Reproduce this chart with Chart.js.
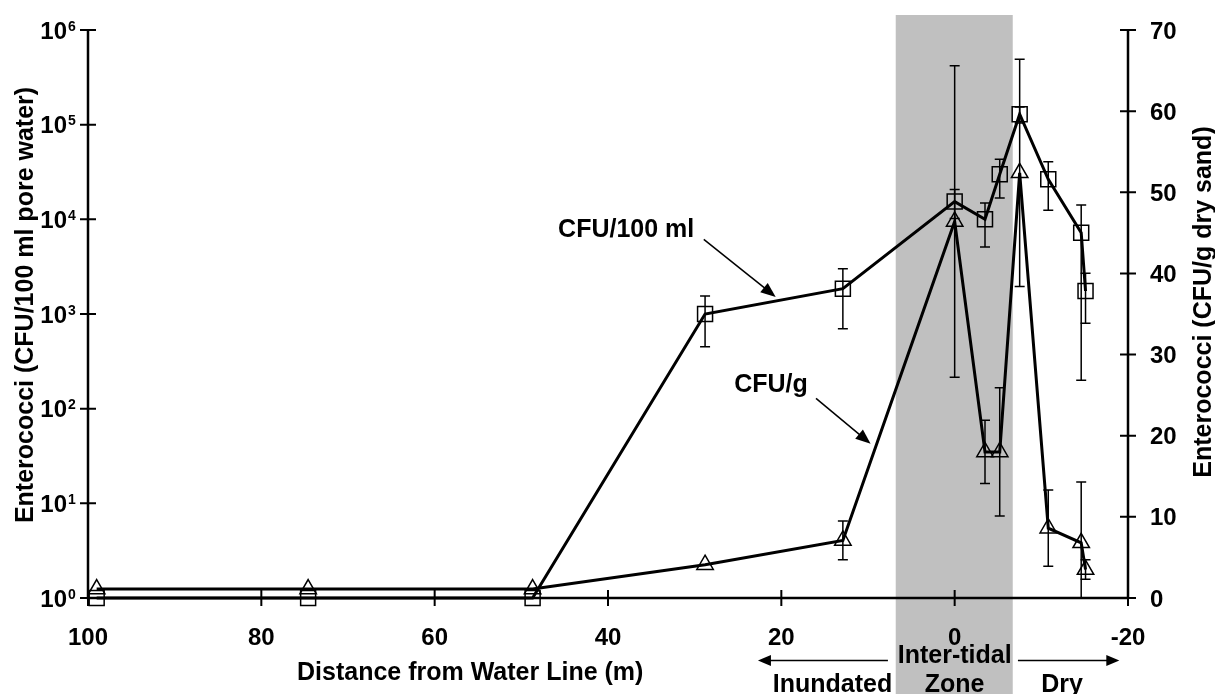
<!DOCTYPE html>
<html lang="en">
<head>
<meta charset="UTF-8">
<title>Enterococci vs. distance from water line</title>
<script src="https://cdn.jsdelivr.net/npm/chart.js@4.4.0/dist/chart.umd.min.js"></script>
<style>
  html, body { margin: 0; padding: 0; background: #fff; }
  #wrap { width: 1215px; height: 694px; }
</style>
</head>
<body>
<div id="wrap"><canvas id="chart" width="1215" height="694"></canvas></div>
<script>
// Sampling stations (m from water line, negative = landward)
const distance = [99, 74.6, 48.7, 28.8, 12.9, 0, -3.5, -5.2, -7.5, -10.8, -14.6, -15.1];

// Enterococci in pore water (CFU/100 ml), left log axis
const cfuPer100ml    = [1, 1, 1, 1000, 1850, 15400, 10000, 30000, 129000, 26500, 7200, 1750];
const cfuPer100mlErr = [0, 0, 0, 550, 1150, 5200, 4900, 13200, 25000, 14000, 7000, 950];

// Enterococci in sand (CFU/g dry sand), right linear axis
const cfuPerGram    = [1.1, 1.1, 1.1, 4.1, 7.1, 46.4, 18.0, 18.0, 52.4, 8.6, 6.8, 3.5];
const cfuPerGramErr = [0, 0, 0, 0, 2.4, 19.2, 3.9, 7.9, 14.0, 4.7, 7.5, 1.2];

const xTicks = [100, 80, 60, 40, 20, 0, -20];
const logExponents = [0, 1, 2, 3, 4, 5, 6];
const linTicks = [0, 10, 20, 30, 40, 50, 60, 70];

// inter-tidal zone limits (m)
const interTidal = [6.8, -6.7];

const FONT = "'Liberation Sans', Arial, Helvetica, sans-serif";

function toPoints(ys) {
  return distance.map((d, i) => ({ x: d, y: ys[i] }));
}

function drawArrow(ctx, x1, y1, x2, y2, len, half) {
  const a = Math.atan2(y2 - y1, x2 - x1);
  ctx.beginPath();
  ctx.moveTo(x1, y1);
  ctx.lineTo(x2 - Math.cos(a) * len * 0.8, y2 - Math.sin(a) * len * 0.8);
  ctx.stroke();
  ctx.beginPath();
  ctx.moveTo(x2, y2);
  ctx.lineTo(x2 - Math.cos(a) * len - Math.sin(a) * half, y2 - Math.sin(a) * len + Math.cos(a) * half);
  ctx.lineTo(x2 - Math.cos(a) * len + Math.sin(a) * half, y2 - Math.sin(a) * len - Math.cos(a) * half);
  ctx.closePath();
  ctx.fill();
}

// grey band behind the data for the inter-tidal zone
const bandPlugin = {
  id: 'band',
  beforeDatasetsDraw(chart) {
    const { ctx, chartArea } = chart;
    const x = chart.scales.x;
    const a = x.getPixelForValue(interTidal[0]);
    const b = x.getPixelForValue(interTidal[1]);
    ctx.save();
    ctx.fillStyle = '#c0c0c0';
    ctx.fillRect(a, chartArea.top - 15, b - a, chart.height - chartArea.top + 15);
    ctx.restore();
  }
};

// vertical error bars, clipped at the axis minimum
const errorBarPlugin = {
  id: 'errorBars',
  afterDatasetsDraw(chart) {
    const { ctx } = chart;
    const x = chart.scales.x;
    const sets = [
      { scale: chart.scales.yLog, vals: cfuPer100ml, errs: cfuPer100mlErr, floor: 1 },
      { scale: chart.scales.yLin, vals: cfuPerGram, errs: cfuPerGramErr, floor: 0 }
    ];
    ctx.save();
    ctx.strokeStyle = '#000';
    ctx.lineWidth = 1.5;
    sets.forEach(s => {
      s.vals.forEach((v, i) => {
        const e = s.errs[i];
        if (!e) return;
        const px = x.getPixelForValue(distance[i]);
        const hiV = v + e;
        const loV = Math.max(v - e, s.floor);
        const hi = s.scale.getPixelForValue(hiV);
        const lo = s.scale.getPixelForValue(loV);
        ctx.beginPath();
        ctx.moveTo(px, hi);
        ctx.lineTo(px, lo);
        ctx.moveTo(px - 5, hi);
        ctx.lineTo(px + 5, hi);
        if (v - e > s.floor) {
          ctx.moveTo(px - 5, lo);
          ctx.lineTo(px + 5, lo);
        }
        ctx.stroke();
      });
    });
    ctx.restore();
  }
};

// axes, ticks, labels and annotations
const axesPlugin = {
  id: 'axes',
  afterDraw(chart) {
    const { ctx, chartArea } = chart;
    const x = chart.scales.x, yL = chart.scales.yLog, yR = chart.scales.yLin;
    const { left, right, top, bottom } = chartArea;
    ctx.save();
    ctx.strokeStyle = '#000';
    ctx.fillStyle = '#000';

    // axis lines
    ctx.lineWidth = 2.5;
    ctx.beginPath();
    ctx.moveTo(left, top);
    ctx.lineTo(left, bottom);
    ctx.lineTo(right, bottom);
    ctx.moveTo(right, top);
    ctx.lineTo(right, bottom);
    ctx.stroke();

    // tick marks crossing each axis
    ctx.lineWidth = 2;
    ctx.beginPath();
    xTicks.forEach(t => {
      const px = x.getPixelForValue(t);
      ctx.moveTo(px, bottom - 8);
      ctx.lineTo(px, bottom + 8);
    });
    logExponents.forEach(p => {
      const py = yL.getPixelForValue(Math.pow(10, p));
      ctx.moveTo(left - 8, py);
      ctx.lineTo(left + 8, py);
    });
    linTicks.forEach(t => {
      const py = yR.getPixelForValue(t);
      ctx.moveTo(right - 8, py);
      ctx.lineTo(right + 8, py);
    });
    ctx.stroke();

    // tick labels
    ctx.font = 'bold 24px ' + FONT;
    ctx.textBaseline = 'alphabetic';
    ctx.textAlign = 'center';
    xTicks.forEach(t => {
      ctx.fillText(String(t), x.getPixelForValue(t), bottom + 47);
    });
    ctx.textAlign = 'left';
    linTicks.forEach(t => {
      ctx.fillText(String(t), right + 22, yR.getPixelForValue(t) + 8.5);
    });
    logExponents.forEach(p => {
      const py = yL.getPixelForValue(Math.pow(10, p));
      ctx.font = 'bold 24px ' + FONT;
      ctx.textAlign = 'right';
      ctx.fillText('10', left - 21, py + 8.5);
      ctx.font = 'bold 14px ' + FONT;
      ctx.textAlign = 'left';
      ctx.fillText(String(p), left - 20, py + 0.5);
    });

    // axis titles
    ctx.font = 'bold 25px ' + FONT;
    ctx.textAlign = 'center';
    ctx.fillText('Distance from Water Line (m)', x.getPixelForValue(55.9), bottom + 82);

    ctx.save();
    ctx.translate(left - 55, (top + bottom) / 2 - 9);
    ctx.rotate(-Math.PI / 2);
    ctx.fillText('Enterococci (CFU/100 ml pore water)', 0, 0);
    ctx.restore();

    ctx.save();
    ctx.translate(right + 83, (top + bottom) / 2 - 12);
    ctx.rotate(-Math.PI / 2);
    ctx.fillText('Enterococci (CFU/g dry sand)', 0, 0);
    ctx.restore();

    // zone labels under the axis
    ctx.fillText('Inter-tidal', x.getPixelForValue(0), bottom + 65);
    ctx.fillText('Zone', x.getPixelForValue(0), bottom + 94);
    ctx.fillText('Inundated', x.getPixelForValue(14.1), bottom + 94);
    ctx.fillText('Dry', x.getPixelForValue(-12.4), bottom + 94);
    ctx.lineWidth = 1.5;
    drawArrow(ctx, x.getPixelForValue(7.7), bottom + 62.5, x.getPixelForValue(22.7), bottom + 62.5, 13, 5.5);
    drawArrow(ctx, x.getPixelForValue(-7.3), bottom + 62.5, x.getPixelForValue(-19.0), bottom + 62.5, 13, 5.5);

    // series call-outs
    ctx.fillText('CFU/100 ml', x.getPixelForValue(37.9), yR.getPixelForValue(45.6) + 9);
    ctx.fillText('CFU/g', x.getPixelForValue(21.2), yR.getPixelForValue(26.5) + 9);
    drawArrow(ctx, x.getPixelForValue(28.95), yR.getPixelForValue(44.2),
                   x.getPixelForValue(20.65), yR.getPixelForValue(37.1), 15, 6);
    drawArrow(ctx, x.getPixelForValue(16.0), yR.getPixelForValue(24.6),
                   x.getPixelForValue(9.7), yR.getPixelForValue(19.0), 15, 6);

    ctx.restore();
  }
};

new Chart(document.getElementById('chart'), {
  type: 'line',
  data: {
    datasets: [
      {
        label: 'CFU/100 ml',
        data: toPoints(cfuPer100ml),
        yAxisID: 'yLog',
        borderColor: '#000',
        borderWidth: 3,
        pointStyle: 'rect',
        pointRadius: 10.6,
        pointBorderWidth: 1.5,
        pointBorderColor: '#000',
        pointBackgroundColor: 'rgba(0,0,0,0)',
        tension: 0,
        clip: false
      },
      {
        label: 'CFU/g',
        data: toPoints(cfuPerGram),
        yAxisID: 'yLin',
        borderColor: '#000',
        borderWidth: 3,
        pointStyle: 'triangle',
        pointRadius: 9.5,
        pointBorderWidth: 1.5,
        pointBorderColor: '#000',
        pointBackgroundColor: 'rgba(0,0,0,0)',
        tension: 0,
        clip: false
      }
    ]
  },
  options: {
    responsive: false,
    animation: false,
    layout: { padding: { left: 88, right: 87, top: 30, bottom: 96 } },
    plugins: { legend: { display: false }, tooltip: { enabled: false } },
    scales: {
      x: { type: 'linear', reverse: true, min: -20, max: 100, display: false },
      yLog: { type: 'logarithmic', position: 'left', min: 1, max: 1e6, display: false },
      yLin: { type: 'linear', position: 'right', min: 0, max: 70, display: false }
    }
  },
  plugins: [bandPlugin, errorBarPlugin, axesPlugin]
});
</script>
</body>
</html>
